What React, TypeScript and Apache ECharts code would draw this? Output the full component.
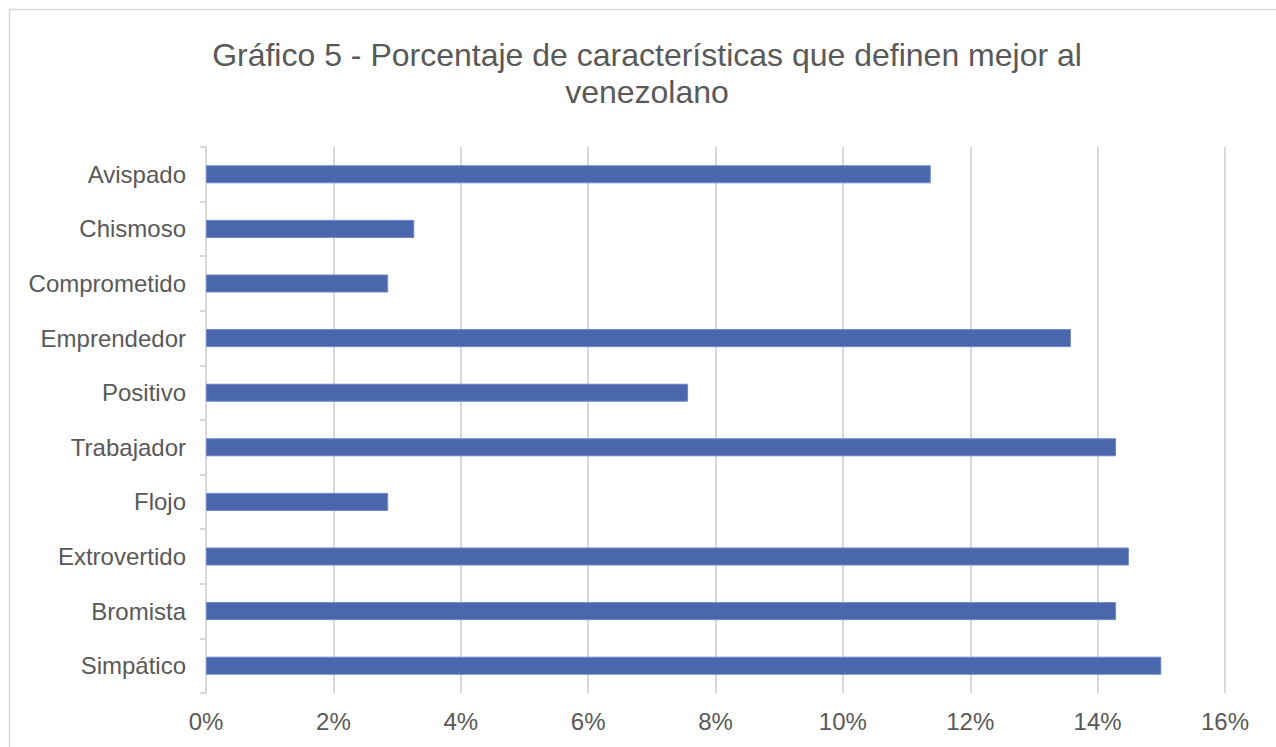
import React, { useEffect, useRef } from "react";
import * as echarts from "echarts";

const categories = [
  "Avispado",
  "Chismoso",
  "Comprometido",
  "Emprendedor",
  "Positivo",
  "Trabajador",
  "Flojo",
  "Extrovertido",
  "Bromista",
  "Simpático",
];
const values = [11.38, 3.27, 2.86, 13.58, 7.57, 14.29, 2.86, 14.49, 14.29, 15.0];
const xTicks = [0, 2, 4, 6, 8, 10, 12, 14, 16];
const titleText = "Gráfico 5 - Porcentaje de características que definen mejor al\nvenezolano";

export default function App() {
  const ref = useRef<HTMLDivElement>(null);
  useEffect(() => {
    if (!ref.current) return;
    const chart = echarts.init(ref.current, null, { renderer: "svg" });
    const font = "'Liberation Sans', Arial, sans-serif";
    chart.setOption({
      animation: false,
      backgroundColor: "#ffffff",
      graphic: [
        {
          type: "rect",
          shape: { x: 9.5, y: 9.5, width: 1400, height: 900 },
          style: { fill: "none", stroke: "#d9d9d9", lineWidth: 1.5 },
          silent: true,
        },
        {
          type: "text",
          x: 647,
          y: 36,
          style: {
            text: titleText,
            fontFamily: font,
            fontSize: 32,
            lineHeight: 37,
            fill: "#595959",
            align: "center",
            verticalAlign: "top",
          },
        },
      ],
      grid: { left: 206, right: 51, top: 147, bottom: 54, containLabel: false },
      xAxis: {
        type: "value",
        min: xTicks[0],
        max: xTicks[xTicks.length - 1],
        interval: 2,
        axisLine: { show: false },
        axisTick: { show: false },
        splitLine: { show: true, lineStyle: { color: "#d9d9d9", width: 2 } },
        axisLabel: {
          formatter: (v: number) => `${v}%`,
          color: "#595959",
          fontFamily: font,
          fontSize: 24,
          margin: 16,
        },
      },
      yAxis: {
        type: "category",
        data: categories,
        inverse: true,
        axisLine: { show: true, lineStyle: { color: "#d9d9d9", width: 2 } },
        axisTick: { show: true, length: 6, lineStyle: { color: "#d9d9d9", width: 2 } },
        axisLabel: {
          color: "#595959",
          fontFamily: font,
          fontSize: 24,
          margin: 20,
        },
      },
      series: [
        {
          type: "bar",
          data: values,
          barWidth: "33%",
          itemStyle: { color: "#4A66AC", borderColor: "#6E87C4", borderWidth: 1 },
        },
      ],
    });
    return () => chart.dispose();
  }, []);
  return (
    <div
      ref={ref}
      style={{ position: "fixed", left: 0, top: 0, width: 1276, height: 747 }}
    />
  );
}
